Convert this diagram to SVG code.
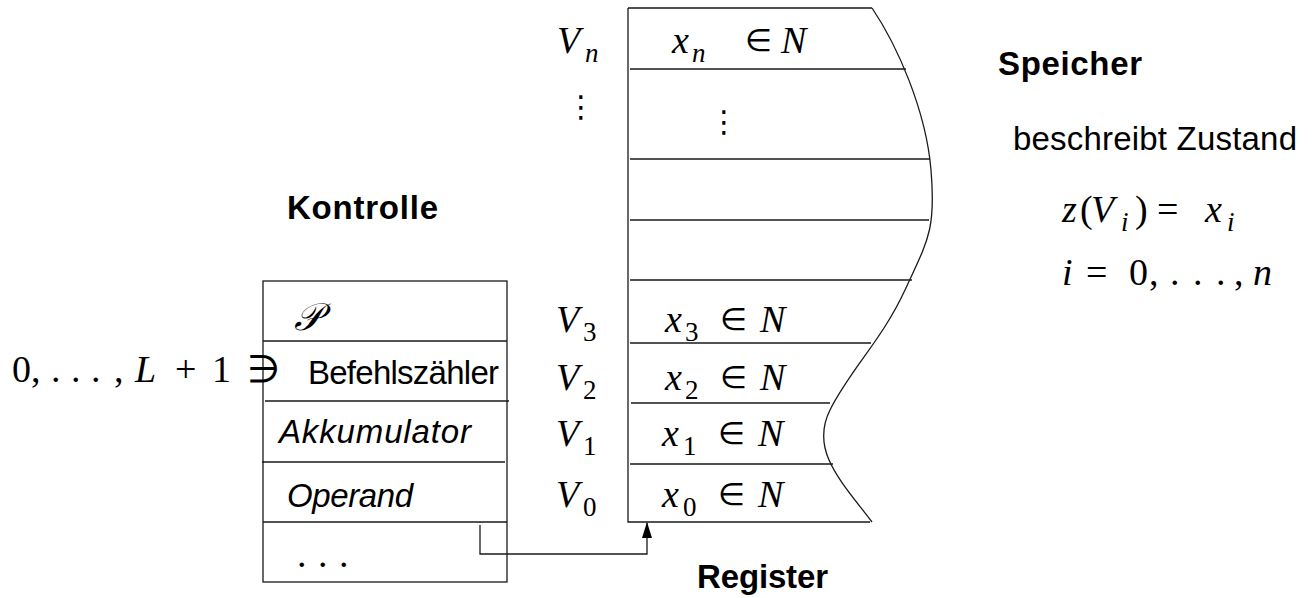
<svg xmlns="http://www.w3.org/2000/svg" width="1312" height="598" viewBox="0 0 1312 598">
<defs>
<style>
.ln{stroke:#1a1a1a;stroke-width:1.3;fill:none}
.sans{font-family:"Liberation Sans",Arial,sans-serif;font-size:33px;fill:#000}
.b{font-weight:bold}
.it{font-style:italic}
.m{font-family:"Liberation Serif","Times New Roman",serif;font-size:38px;fill:#000}
.mi{font-family:"Liberation Serif","Times New Roman",serif;font-size:38px;font-style:italic;fill:#000}
.el{font-size:31px}
.sub{font-size:27px}
.dots{font-family:"DejaVu Sans",sans-serif;font-size:30px;fill:#000}
</style>
<marker id="ah" markerWidth="16" markerHeight="10" refX="15" refY="5" orient="auto" markerUnits="userSpaceOnUse">
<path d="M0,0 L16,5 L0,10 z" fill="#000"/>
</marker>
</defs>
<rect width="1312" height="598" fill="#fff"/>

<g id="register">
<path class="ln" d="M628,8 H872 M628,8 V522 H870"/>
<path class="ln" d="M872,8 C897,45 926,110 931,170 S928,240 905,290 S850,370 830,410 S840,480 872,522"/>
<path class="ln" d="M630,69 H906 M630,159 H930 M630,220 H929 M630,280 H912 M630,343 H871 M631,403 H830 M630,464 H833"/>
<text class="mi" x="557" y="53">V</text><text class="mi sub" x="585" y="62">n</text>
<text class="dots" x="566" y="117">⋮</text>
<text class="mi" x="672" y="53">x</text><text class="mi sub" x="692" y="62">n</text><text class="m el" x="745" y="51">∈</text><text class="mi" x="781" y="53">N</text>
<text class="dots" x="709" y="132">⋮</text>
<text class="mi" x="556" y="332">V</text><text class="m sub" x="583" y="341">3</text>
<text class="mi" x="665" y="332">x</text><text class="m sub" x="685" y="341">3</text><text class="m el" x="720" y="330">∈</text><text class="mi" x="760" y="332">N</text>
<text class="mi" x="556" y="390">V</text><text class="m sub" x="583" y="399">2</text>
<text class="mi" x="665" y="390">x</text><text class="m sub" x="685" y="399">2</text><text class="m el" x="720" y="388">∈</text><text class="mi" x="760" y="390">N</text>
<text class="mi" x="556" y="446">V</text><text class="m sub" x="583" y="455">1</text>
<text class="mi" x="662" y="446">x</text><text class="m sub" x="683" y="455">1</text><text class="m el" x="718" y="444">∈</text><text class="mi" x="758" y="446">N</text>
<text class="mi" x="556" y="507">V</text><text class="m sub" x="583" y="516">0</text>
<text class="mi" x="662" y="507">x</text><text class="m sub" x="683" y="516">0</text><text class="m el" x="718" y="505">∈</text><text class="mi" x="758" y="507">N</text>
<text class="sans b" x="697" y="588" textLength="131">Register</text>
</g>

<g id="kontrolle">
<rect class="ln" x="263" y="281" width="244" height="301"/>
<path class="ln" d="M263,341 H507 M265,401 H509 M262,462 H505 M263,522 H507"/>
<text class="sans b" x="287" y="219" textLength="151">Kontrolle</text>
<text class="mi" x="294" y="330">𝒫</text>
<text class="sans" x="308" y="384" textLength="191">Befehlszähler</text>
<text class="sans it" x="279" y="443" textLength="192">Akkumulator</text>
<text class="sans it" x="287" y="507" textLength="126">Operand</text>
<text class="m" y="567"><tspan x="297">.</tspan><tspan x="318">.</tspan><tspan x="339">.</tspan></text>
<text class="m" y="382"><tspan x="12">0</tspan><tspan x="31">,</tspan><tspan x="51">.</tspan><tspan x="71">.</tspan><tspan x="91">.</tspan><tspan x="114">,</tspan><tspan class="it" x="135">L</tspan><tspan x="175">+</tspan><tspan x="212">1</tspan><tspan x="247">∋</tspan></text>
</g>

<g id="speicher">
<text class="sans b" x="998" y="75" textLength="144">Speicher</text>
<text class="sans" x="1013" y="150" textLength="284">beschreibt Zustand</text>
<text class="mi" x="1062" y="222">z</text><text class="m" x="1080" y="222">(</text><text class="mi" x="1091" y="222">V</text><text class="mi sub" x="1121" y="231">i</text><text class="m" x="1135" y="222">)</text><text class="m" x="1157" y="222">=</text><text class="mi" x="1205" y="222">x</text><text class="mi sub" x="1227" y="231">i</text>
<text class="m" y="285"><tspan class="it" x="1062">i</tspan><tspan x="1086">=</tspan><tspan x="1129">0</tspan><tspan x="1149">,</tspan><tspan x="1170">.</tspan><tspan x="1193">.</tspan><tspan x="1216">.</tspan><tspan x="1234">,</tspan><tspan class="it" x="1253">n</tspan></text>
</g>

<g id="connectors">
<path class="ln" d="M480,525 V554 H647 V523" marker-end="url(#ah)"/>
</g>
</svg>
